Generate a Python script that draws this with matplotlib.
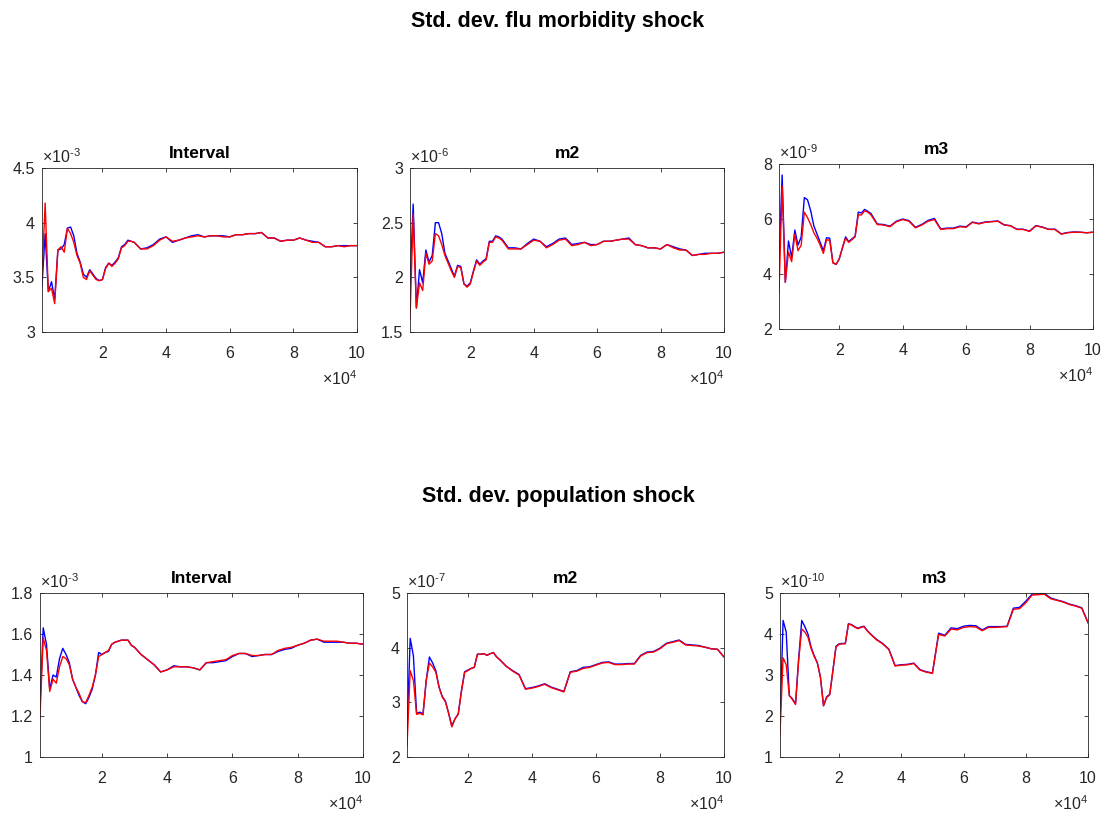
import matplotlib
matplotlib.use("Agg")
import matplotlib.pyplot as plt
from matplotlib.ticker import FuncFormatter

plt.rcParams['font.family'] = ['Liberation Sans', 'DejaVu Sans']
plt.rcParams['mathtext.fontset'] = 'custom'
plt.rcParams['mathtext.rm'] = 'Liberation Sans'

# draw counter of the recursive diagnostics
draws = list(range(1000, 31000, 1000)) + list(range(32000, 102000, 2000))

# --- Std. dev. flu morbidity shock ---
flu_interval_blue = [3.42, 3.90, 3.37, 3.46, 3.30, 3.75, 3.76, 3.80, 3.95, 3.96,
                     3.88, 3.72, 3.64, 3.53, 3.50, 3.57, 3.53, 3.49, 3.47, 3.48,
                     3.59, 3.63, 3.61, 3.64, 3.68, 3.78, 3.80, 3.84, 3.83, 3.82,
                     3.76, 3.77, 3.80, 3.85, 3.87, 3.82, 3.84, 3.86, 3.88, 3.89,
                     3.87, 3.88, 3.88, 3.88, 3.87, 3.89, 3.89, 3.90, 3.90, 3.91,
                     3.86, 3.86, 3.83, 3.84, 3.84, 3.86, 3.84, 3.83, 3.82, 3.78,
                     3.78, 3.79, 3.79, 3.79, 3.79]
flu_interval_red = [3.50, 4.18, 3.37, 3.40, 3.26, 3.75, 3.78, 3.73, 3.95, 3.90,
                    3.82, 3.70, 3.63, 3.50, 3.48, 3.56, 3.52, 3.48, 3.47, 3.48,
                    3.58, 3.63, 3.60, 3.63, 3.67, 3.77, 3.79, 3.83, 3.83, 3.82,
                    3.76, 3.76, 3.79, 3.84, 3.87, 3.83, 3.84, 3.86, 3.87, 3.88,
                    3.87, 3.88, 3.88, 3.87, 3.87, 3.89, 3.89, 3.90, 3.90, 3.91,
                    3.86, 3.86, 3.83, 3.84, 3.84, 3.86, 3.84, 3.82, 3.82, 3.78,
                    3.78, 3.79, 3.78, 3.79, 3.79]

flu_m2_blue = [1.95, 2.67, 1.72, 2.07, 1.95, 2.25, 2.14, 2.20, 2.50, 2.50,
               2.40, 2.22, 2.15, 2.08, 2.01, 2.11, 2.10, 1.94, 1.92, 1.95,
               2.06, 2.16, 2.12, 2.15, 2.17, 2.33, 2.33, 2.38, 2.37, 2.35,
               2.27, 2.27, 2.26, 2.31, 2.35, 2.33, 2.28, 2.31, 2.35, 2.36,
               2.30, 2.31, 2.32, 2.30, 2.30, 2.33, 2.33, 2.34, 2.35, 2.36,
               2.30, 2.29, 2.27, 2.27, 2.26, 2.30, 2.28, 2.26, 2.25, 2.20,
               2.21, 2.22, 2.22, 2.22, 2.23]
flu_m2_red = [1.62, 2.58, 1.72, 1.95, 1.88, 2.22, 2.12, 2.15, 2.40, 2.38,
              2.30, 2.20, 2.13, 2.06, 2.00, 2.10, 2.09, 1.94, 1.91, 1.94,
              2.05, 2.15, 2.11, 2.14, 2.16, 2.32, 2.32, 2.37, 2.36, 2.34,
              2.26, 2.26, 2.26, 2.30, 2.34, 2.33, 2.27, 2.30, 2.34, 2.35,
              2.29, 2.30, 2.32, 2.29, 2.30, 2.33, 2.33, 2.34, 2.35, 2.35,
              2.30, 2.29, 2.27, 2.27, 2.26, 2.30, 2.27, 2.25, 2.25, 2.20,
              2.21, 2.21, 2.22, 2.22, 2.23]

flu_m3_blue = [4.40, 7.60, 3.70, 5.20, 4.60, 5.60, 5.05, 5.35, 6.78, 6.70,
               6.30, 5.75, 5.45, 5.15, 4.85, 5.32, 5.30, 4.42, 4.35, 4.55,
               4.95, 5.35, 5.18, 5.28, 5.37, 6.25, 6.22, 6.35, 6.28, 6.20,
               5.82, 5.80, 5.74, 5.92, 6.00, 5.94, 5.70, 5.80, 5.95, 6.02,
               5.64, 5.67, 5.67, 5.74, 5.72, 5.89, 5.84, 5.89, 5.91, 5.93,
               5.79, 5.76, 5.63, 5.63, 5.56, 5.76, 5.71, 5.63, 5.63, 5.46,
               5.51, 5.53, 5.52, 5.50, 5.52]
flu_m3_red = [3.30, 7.20, 3.70, 4.80, 4.45, 5.45, 4.85, 5.05, 6.25, 6.05,
              5.80, 5.50, 5.30, 5.05, 4.75, 5.25, 5.22, 4.40, 4.35, 4.55,
              4.95, 5.30, 5.15, 5.25, 5.35, 6.15, 6.15, 6.30, 6.25, 6.15,
              5.80, 5.78, 5.72, 5.90, 5.98, 5.92, 5.68, 5.78, 5.92, 5.98,
              5.62, 5.65, 5.65, 5.72, 5.70, 5.88, 5.82, 5.88, 5.90, 5.92,
              5.78, 5.75, 5.62, 5.62, 5.55, 5.75, 5.70, 5.62, 5.62, 5.45,
              5.50, 5.52, 5.52, 5.50, 5.52]

# --- Std. dev. population shock ---
pop_interval_blue = [1.25, 1.63, 1.55, 1.33, 1.40, 1.39, 1.48, 1.53, 1.50, 1.46,
                     1.38, 1.34, 1.30, 1.27, 1.26, 1.29, 1.33, 1.40, 1.51, 1.50,
                     1.51, 1.515, 1.55, 1.56, 1.565, 1.57, 1.57, 1.57, 1.545, 1.535,
                     1.50, 1.475, 1.45, 1.415, 1.425, 1.445, 1.44, 1.44, 1.435, 1.425,
                     1.46, 1.46, 1.465, 1.47, 1.49, 1.505, 1.505, 1.49, 1.495, 1.50,
                     1.50, 1.515, 1.525, 1.53, 1.545, 1.555, 1.57, 1.575, 1.56, 1.56,
                     1.56, 1.56, 1.555, 1.555, 1.55]
pop_interval_red = [1.19, 1.58, 1.52, 1.32, 1.38, 1.36, 1.44, 1.49, 1.48, 1.45,
                    1.38, 1.34, 1.31, 1.27, 1.265, 1.30, 1.34, 1.40, 1.49, 1.50,
                    1.51, 1.52, 1.55, 1.56, 1.565, 1.57, 1.57, 1.57, 1.545, 1.535,
                    1.50, 1.475, 1.45, 1.415, 1.425, 1.44, 1.44, 1.44, 1.435, 1.425,
                    1.46, 1.465, 1.47, 1.475, 1.495, 1.505, 1.505, 1.495, 1.495, 1.50,
                    1.50, 1.52, 1.53, 1.535, 1.545, 1.555, 1.57, 1.575, 1.565, 1.565,
                    1.565, 1.56, 1.555, 1.555, 1.55]

pop_m2_blue = [2.45, 4.17, 3.85, 2.80, 2.82, 2.79, 3.40, 3.83, 3.72, 3.58,
               3.28, 3.11, 3.02, 2.80, 2.57, 2.70, 2.79, 3.21, 3.56, 3.59,
               3.62, 3.64, 3.88, 3.88, 3.89, 3.86, 3.89, 3.91, 3.83, 3.78,
               3.66, 3.58, 3.51, 3.25, 3.27, 3.30, 3.34, 3.28, 3.24, 3.20,
               3.56, 3.58, 3.64, 3.65, 3.69, 3.73, 3.74, 3.70, 3.70, 3.71,
               3.71, 3.86, 3.92, 3.93, 3.99, 4.08, 4.11, 4.14, 4.06, 4.05,
               4.04, 4.01, 3.98, 3.97, 3.83]
pop_m2_red = [2.20, 3.58, 3.40, 2.78, 2.80, 2.77, 3.40, 3.72, 3.65, 3.55,
              3.28, 3.10, 3.01, 2.80, 2.55, 2.70, 2.78, 3.20, 3.55, 3.58,
              3.62, 3.64, 3.88, 3.88, 3.89, 3.86, 3.89, 3.91, 3.83, 3.78,
              3.66, 3.57, 3.50, 3.24, 3.26, 3.29, 3.33, 3.27, 3.23, 3.19,
              3.55, 3.57, 3.62, 3.64, 3.68, 3.72, 3.73, 3.69, 3.69, 3.70,
              3.70, 3.85, 3.91, 3.92, 3.98, 4.07, 4.10, 4.13, 4.05, 4.04,
              4.03, 4.01, 3.98, 3.97, 3.83]

pop_m3_blue = [1.80, 4.33, 4.05, 2.50, 2.42, 2.30, 3.40, 4.33, 4.18, 4.00,
               3.68, 3.47, 3.30, 2.95, 2.25, 2.47, 2.53, 3.10, 3.70, 3.76,
               3.77, 3.77, 4.25, 4.23, 4.18, 4.14, 4.17, 4.19, 4.09, 4.01,
               3.87, 3.77, 3.63, 3.23, 3.25, 3.26, 3.29, 3.13, 3.08, 3.05,
               4.02, 3.97, 4.15, 4.13, 4.19, 4.21, 4.20, 4.10, 4.18, 4.18,
               4.18, 4.19, 4.63, 4.65, 4.80, 4.97, 4.98, 4.99, 4.88, 4.83,
               4.79, 4.73, 4.69, 4.64, 4.28]
pop_m3_red = [1.55, 3.42, 3.25, 2.50, 2.40, 2.28, 3.35, 4.12, 4.05, 3.92,
              3.65, 3.45, 3.30, 2.95, 2.25, 2.45, 2.52, 3.10, 3.68, 3.75,
              3.76, 3.76, 4.24, 4.22, 4.17, 4.13, 4.16, 4.18, 4.08, 4.00,
              3.86, 3.76, 3.62, 3.22, 3.24, 3.25, 3.28, 3.12, 3.07, 3.04,
              3.99, 3.95, 4.12, 4.10, 4.16, 4.18, 4.17, 4.08, 4.16, 4.16,
              4.17, 4.18, 4.60, 4.62, 4.76, 4.95, 4.96, 4.97, 4.86, 4.82,
              4.78, 4.72, 4.68, 4.63, 4.27]

xtick_vals = [20000, 40000, 60000, 80000, 100000]
xtick_labels = ['2', '4', '6', '8', '10']

AX_COLOR = '#262626'


def main():

    fig = plt.figure(figsize=(11.16, 8.14), dpi=100)

    # rect, title, blue, red, ylim, yticks, exponent
    panels = [
        ([0.0376, 0.5921, 0.2823, 0.2015], 'Interval', flu_interval_blue, flu_interval_red,
         (3, 4.5), [3, 3.5, 4, 4.5], 3),
        ([0.3674, 0.5921, 0.2814, 0.2015], 'm2', flu_m2_blue, flu_m2_red,
         (1.5, 3), [1.5, 2, 2.5, 3], 6),
        ([0.6980, 0.5958, 0.2814, 0.2027], 'm3', flu_m3_blue, flu_m3_red,
         (2, 8), [2, 4, 6, 8], 9),
        ([0.0358, 0.0700, 0.2894, 0.2015], 'Interval', pop_interval_blue, pop_interval_red,
         (1, 1.8), [1, 1.2, 1.4, 1.6, 1.8], 3),
        ([0.3647, 0.0700, 0.2840, 0.2015], 'm2', pop_m2_blue, pop_m2_red,
         (2, 5), [2, 3, 4, 5], 7),
        ([0.6989, 0.0700, 0.2760, 0.2015], 'm3', pop_m3_blue, pop_m3_red,
         (1, 5), [1, 2, 3, 4, 5], 10),
    ]

    for rect, title, blue, red, ylim, yticks, expo in panels:
        ax = fig.add_axes(rect)
        drawPanel(ax, title, blue, red, ylim, yticks, expo)

    fig.text(0.5, 1 - 22 / 814, 'Std. dev. flu morbidity shock', ha='center', va='center',
             fontsize=15.5, fontweight='bold')
    fig.text(0.5, 1 - 496 / 814, 'Std. dev. population shock', ha='center', va='center',
             fontsize=15.5, fontweight='bold')

    plt.savefig('out.png', dpi=100)


def drawPanel(ax, title, blue, red, ylim, yticks, expo):

    ax.plot(draws, blue, color='#0000ff', linewidth=1.0)
    ax.plot(draws, red, color='#ff0000', linewidth=1.0)

    ax.set_xlim(1000, 100000)
    ax.set_ylim(*ylim)
    ax.set_xticks(xtick_vals)
    ax.set_xticklabels(xtick_labels)
    ax.set_yticks(yticks)
    ax.yaxis.set_major_formatter(FuncFormatter(lambda v, p: '%g' % v))

    ax.tick_params(direction='in', length=3, width=0.6, colors=AX_COLOR,
                   labelsize=11.5, top=True, right=True, pad=5)
    ax.tick_params(axis='x', pad=10)
    for s in ax.spines.values():
        s.set_color(AX_COLOR)
        s.set_linewidth(0.6)

    ax.set_title(title, fontsize=12.5, fontweight='bold', pad=7)

    # exponent labels above the y axis and below the x axis
    ax.text(0.0, 1.01, r'$\times10^{\text{-}%d}$' % expo, transform=ax.transAxes,
            ha='left', va='bottom', fontsize=11.5, color=AX_COLOR)
    ax.text(1.0, -0.225, r'$\times10^{4}$', transform=ax.transAxes,
            ha='right', va='top', fontsize=11.5, color=AX_COLOR)


if __name__ == "__main__":
    main()
